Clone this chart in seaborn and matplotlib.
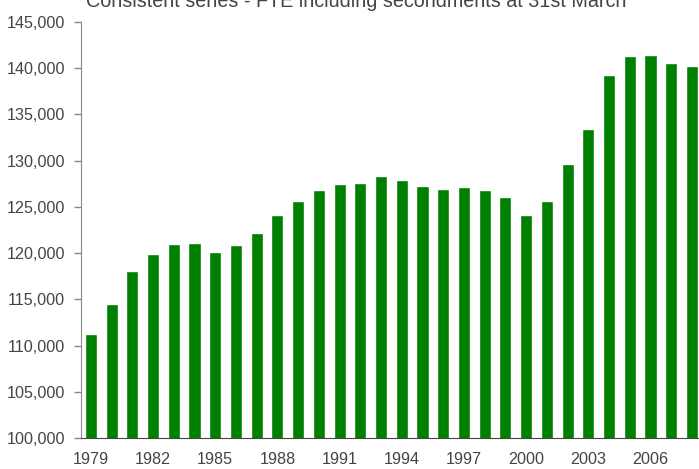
import matplotlib
matplotlib.use('Agg')
import matplotlib.pyplot as plt
import matplotlib.ticker as mticker
import pandas as pd
import seaborn as sns

years = list(range(1979, 2009))
fte = [111200, 114500, 118100, 119900, 121000, 121100, 120100, 120900, 122200, 124100,
       125600, 126800, 127500, 127600, 128300, 127900, 127300, 126900, 127200, 126800,
       126100, 124100, 125600, 129600, 133400, 139300, 141300, 141400, 140600, 140200]
title = 'Consistent series - FTE including secondments at 31st March'

sns.set_style('white')
plt.rcParams['font.family'] = ['Liberation Sans', 'DejaVu Sans']
text_col = '#444444'

df = pd.DataFrame({'year': [str(y) for y in years], 'fte': fte})

fig = plt.figure(figsize=(6.99, 4.69), dpi=100)
ax = fig.add_axes([80.5 / 699, 1 - 438 / 469, (699 - 80.5) / 699, (438 - 22) / 469])
sns.barplot(data=df, x='year', y='fte', color='#008000', saturation=1, width=0.58, ax=ax)

ax.set_ylim(100000, 145000)
ax.set_xlim(-0.5, 29.34)
ax.set_yticks(range(100000, 145001, 5000))
ax.yaxis.set_major_formatter(mticker.FuncFormatter(lambda v, p: f'{int(v):,}'))
ax.set_xticks(range(0, 30, 3))
ax.set_xticklabels([str(y) for y in years[::3]])
ax.set_xlabel('')
ax.set_ylabel('')

for s in ['top', 'right']:
    ax.spines[s].set_visible(False)
ax.spines['left'].set_color('#888888')
ax.spines['bottom'].set_color('#444444')
ax.tick_params(axis='y', length=5, width=1, color='#888888', pad=6, labelsize=11.6, labelcolor=text_col, left=True)
ax.tick_params(axis='x', length=0, pad=10, labelsize=11.6, labelcolor=text_col)

fig.text(356.5 / 699, 1 - 7 / 469, title, ha='center', va='baseline', fontsize=14.2, color=text_col)

fig.savefig('out.png', dpi=100)
